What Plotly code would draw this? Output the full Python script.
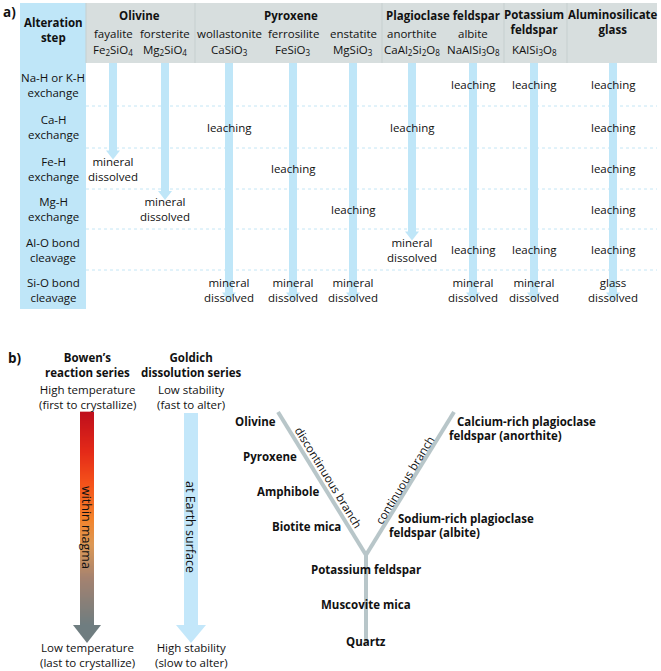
import numpy as np
import plotly.graph_objects as go

# ---------------- data: panel a ----------------
steps = ["Na-H or K-H<br>exchange", "Ca-H<br>exchange", "Fe-H<br>exchange",
         "Mg-H<br>exchange", "Al-O bond<br>cleavage", "Si-O bond<br>cleavage"]
groups = ["Olivine", "Pyroxene", "Plagioclase feldspar", "Potassium<br>feldspar", "Aluminosilicate<br>glass"]
group_members = [2, 3, 2, 1, 1]
minerals = ["fayalite", "forsterite", "wollastonite", "ferrosilite", "enstatite",
            "anorthite", "albite", "", ""]
formulas = ["Fe<sub>2</sub>SiO<sub>4</sub>", "Mg<sub>2</sub>SiO<sub>4</sub>", "CaSiO<sub>3</sub>",
            "FeSiO<sub>3</sub>", "MgSiO<sub>3</sub>", "CaAl<sub>2</sub>Si<sub>2</sub>O<sub>8</sub>",
            "NaAlSi<sub>3</sub>O<sub>8</sub>", "KAlSi<sub>3</sub>O<sub>8</sub>", ""]
# outcome of each alteration step (row index) for each mineral column
outcomes = [
    {2: "mineral<br>dissolved"},
    {3: "mineral<br>dissolved"},
    {1: "leaching", 5: "mineral<br>dissolved"},
    {2: "leaching", 5: "mineral<br>dissolved"},
    {3: "leaching", 5: "mineral<br>dissolved"},
    {1: "leaching", 4: "mineral<br>dissolved"},
    {0: "leaching", 4: "leaching", 5: "mineral<br>dissolved"},
    {0: "leaching", 4: "leaching", 5: "mineral<br>dissolved"},
    {0: "leaching", 1: "leaching", 2: "leaching", 3: "leaching", 4: "leaching", 5: "glass<br>dissolved"},
]

# ---------------- data: panel b ----------------
bowen_title = "Bowen’s<br>reaction series"
goldich_title = "Goldich<br>dissolution series"
bowen_top = "High temperature<br>(first to crystallize)"
bowen_bottom = "Low temperature<br>(last to crystallize)"
goldich_top = "Low stability<br>(fast to alter)"
goldich_bottom = "High stability<br>(slow to alter)"
discontinuous = ["Olivine", "Pyroxene", "Amphibole", "Biotite mica"]
continuous = [["Calcium-rich plagioclase", "feldspar (anorthite)"],
              ["Sodium-rich plagioclase", "feldspar (albite)"]]
stem_minerals = ["Potassium feldspar", "Muscovite mica", "Quartz"]

# ---------------- layout constants (pixels) ----------------
FONT = "Open Sans"
TXT = "#111111"
BLUE = "#bfe6f8"
GREY = "#d7dede"
W, H = 661, 671

tbl_left, step_right, tbl_right = 20, 86, 657
tbl_top, head_bot = 3, 63
row_edges = [63, 106, 148, 189, 229, 270, 309]
group_edges = [86, 195, 382, 504, 567, 657]
col_x = [113, 165, 229, 293, 353, 412, 473, 534, 613]

shapes, ann = [], []


def text(x, y, s, size=11, bold=False, xanchor="center", angle=0, color=TXT):
    if bold:
        s = "<b>" + s + "</b>"
    ann.append(dict(x=x, y=y, xref="x", yref="y", text=s, showarrow=False,
                    font=dict(family=FONT, size=size, color=color),
                    xanchor=xanchor, yanchor="middle", textangle=angle, align="center"))


def rect(x0, y0, x1, y1, color, layer="below"):
    shapes.append(dict(type="rect", xref="x", yref="y", x0=x0, y0=y0, x1=x1, y1=y1,
                       fillcolor=color, line=dict(width=0), layer=layer))


def down_arrow(xc, y0, tip, shaft, head, headlen, color, layer="below"):
    rect(xc - shaft / 2, y0, xc + shaft / 2, tip - headlen + 0.5, color, layer)
    shapes.append(dict(type="path", xref="x", yref="y",
                       path=f"M {xc-head/2},{tip-headlen} L {xc+head/2},{tip-headlen} L {xc},{tip} Z",
                       fillcolor=color, line=dict(width=0), layer=layer))


# panel a backgrounds
rect(tbl_left, tbl_top, step_right, row_edges[-1], BLUE)
rect(step_right, tbl_top, tbl_right, head_bot, GREY)
for gx in group_edges[:-1]:
    shapes.append(dict(type="line", xref="x", yref="y", x0=gx, x1=gx, y0=tbl_top, y1=head_bot,
                       line=dict(color="#c6cfcf", width=1), layer="below"))
for ry in row_edges[1:-1]:
    shapes.append(dict(type="line", xref="x", yref="y", x0=step_right, x1=tbl_right, y0=ry, y1=ry,
                       line=dict(color="#c4e6f5", width=1, dash="dot"), layer="below"))

text(9, 12, "a)", size=13.5, bold=True)
text((tbl_left + step_right) / 2, 30, "Alteration<br>step", size=11.5, bold=True)

row_c = [(row_edges[i] + row_edges[i + 1]) / 2 for i in range(len(steps))]
for i, s in enumerate(steps):
    text((tbl_left + step_right) / 2, row_c[i], s, size=11.5)

# group headers
ci = 0
for g, n in zip(groups, group_members):
    xs = col_x[ci:ci + n]
    gx = (xs[0] + xs[-1]) / 2
    if "<br>" in g:
        text(gx, 22, g, size=11.5, bold=True)
    else:
        text(gx, 15, g, size=11.5, bold=True)
    ci += n
for x, m, f in zip(col_x, minerals, formulas):
    if m:
        text(x, 33, m, size=11.5)
    if f:
        text(x, 50, f, size=11.5)

# arrows + outcome texts
for x, out in zip(col_x, outcomes):
    last = max(out)
    tip = row_c[last] + (12 if last == len(steps) - 1 else -9)
    down_arrow(x, head_bot, tip, 8, 14, 9, BLUE)
    for r, s in out.items():
        text(x, row_c[r], s, size=11.5)

# ---------------- panel b ----------------
text(15, 358, "b)", size=13.5, bold=True)
bx, gx2 = 87, 191
text(bx, 365, bowen_title, size=11.5, bold=True)
text(gx2, 365, goldich_title, size=11.5, bold=True)
text(bx, 397, bowen_top, size=11.5)
text(gx2, 397, goldich_top, size=11.5)
text(bx, 655, bowen_bottom, size=11.5)
text(gx2, 655, goldich_bottom, size=11.5)

a_top, a_headtop, a_tip = 413, 625, 643
# gradient shaft via heatmap
ny = 80
ys = np.linspace(a_top, a_headtop, ny)
zvals = np.linspace(0, 1, ny)
grad = [[0, "#c00f1c"], [0.18, "#e42a18"], [0.33, "#f5521a"], [0.5, "#f3842c"],
        [0.62, "#dc9856"], [0.78, "#a48270"], [1, "#6f7d80"]]
heat = go.Heatmap(x=[bx - 3.5, bx + 3.5], y=ys, z=[[v, v] for v in zvals],
                  colorscale=grad, showscale=False, hoverinfo="skip", zsmooth="best")
shapes.append(dict(type="path", xref="x", yref="y",
                   path=f"M {bx-14},{a_headtop} L {bx+14},{a_headtop} L {bx},{a_tip} Z",
                   fillcolor="#6f7d80", line=dict(width=0), layer="below"))
down_arrow(gx2, a_top, a_tip, 14, 30, 18, "#c3e7fa")
text(bx, 527, "within magma", size=12.5, angle=90)
text(gx2, 527, "at Earth surface", size=12.5, angle=90)

# Y diagram
top_y, fork = 412, (366, 555)
lft_top, rgt_top, stem_bot = (278, top_y), (454, top_y), (366, 642)
LINE = "#b8c6c9"
for p in (lft_top, rgt_top):
    shapes.append(dict(type="line", xref="x", yref="y", x0=p[0], y0=p[1], x1=fork[0], y1=fork[1],
                       line=dict(color=LINE, width=4), layer="below"))
shapes.append(dict(type="line", xref="x", yref="y", x0=fork[0], y0=fork[1], x1=stem_bot[0],
                   y1=stem_bot[1], line=dict(color=LINE, width=4), layer="below"))


def branch_x(p, y):
    return p[0] + (y - p[1]) * (fork[0] - p[0]) / (fork[1] - p[1])


for i, m in enumerate(discontinuous):
    y = 421 + i * 35.3
    text(branch_x(lft_top, y) - 6, y, m, size=11.5, bold=True, xanchor="right")
for lines, y0 in zip(continuous, [421, 518]):
    for j, s in enumerate(lines):
        y = y0 + j * 14.5
        text(branch_x(rgt_top, y) + 7, y, s, size=11.5, bold=True, xanchor="left")
for m, y in zip(stem_minerals, [569, 604, 641]):
    text(fork[0], y, m, size=11.5, bold=True)

ang = float(np.degrees(np.arctan2(fork[1] - top_y, fork[0] - lft_top[0])))
text(329, 477, "discontinuous branch", size=11.5, angle=ang)
text(404, 480, "continuous branch", size=11.5, angle=-ang)

fig = go.Figure(heat)
fig.update_layout(width=W, height=H, margin=dict(l=0, r=0, t=0, b=0),
                  paper_bgcolor="white", plot_bgcolor="white",
                  xaxis=dict(range=[0, W], visible=False, fixedrange=True),
                  yaxis=dict(range=[H, 0], visible=False, fixedrange=True),
                  shapes=shapes, annotations=ann, showlegend=False)
fig.write_html("out.html", config={"displayModeBar": False},
               post_script="document.body.style.margin='0';document.body.style.overflow='hidden';")
